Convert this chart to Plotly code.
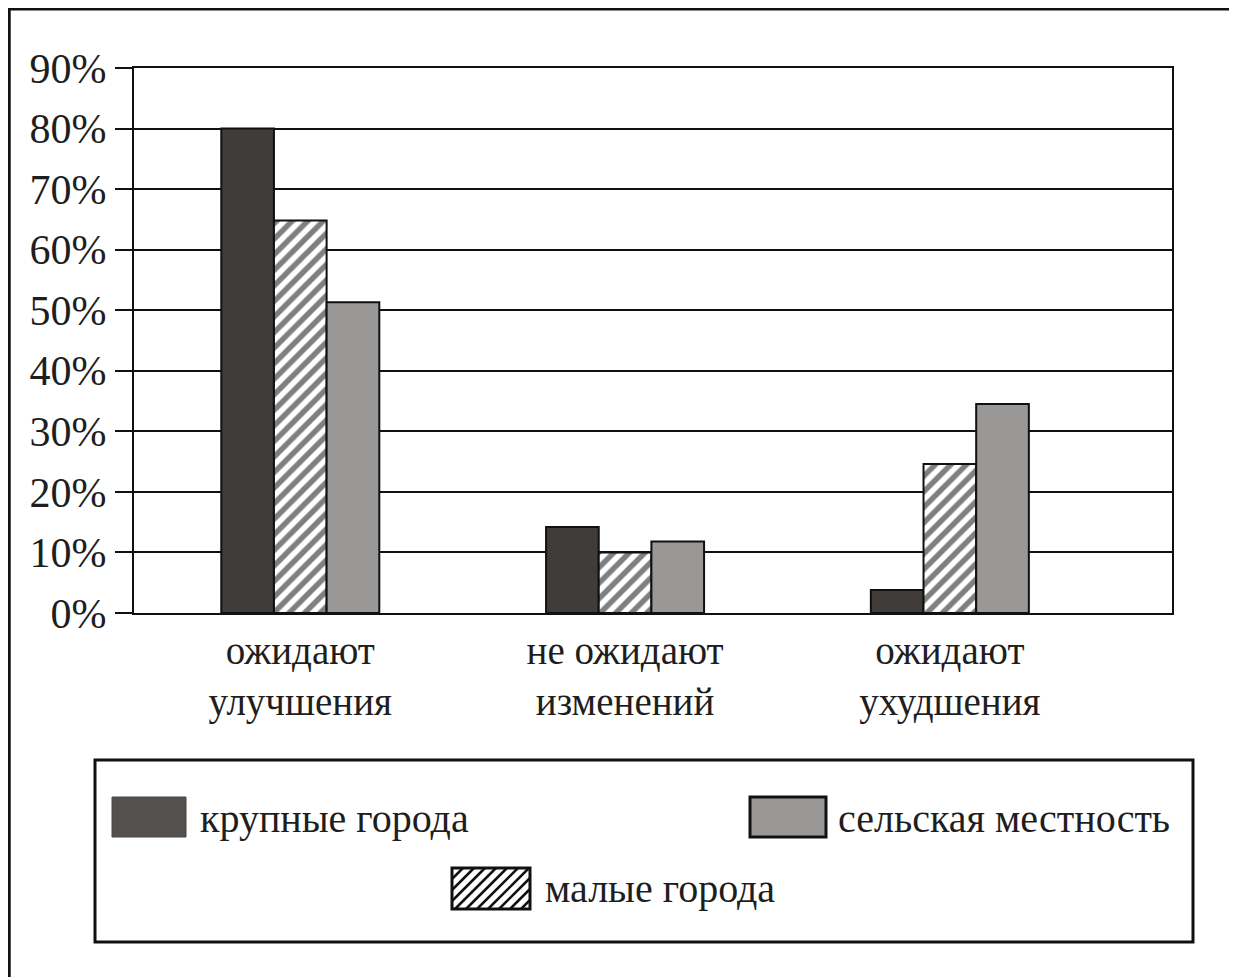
import plotly.graph_objects as go

# ---- data ----
categories = ["ожидают<br>улучшения", "не ожидают<br>изменений", "ожидают<br>ухудшения"]
series_names = ["крупные города", "малые города", "сельская местность"]
large_cities = [80, 14.2, 3.8]
small_towns = [64.8, 10, 24.6]
rural = [51.3, 11.8, 34.5]
y_tick_values = [0, 10, 20, 30, 40, 50, 60, 70, 80, 90]
y_tick_labels = [f"{v}%" for v in y_tick_values]

# page body has an 8px margin; figure sized to fill the rest of the window
OFF = 8
W, H = 1237 - OFF, 977 - OFF
FONT = "Liberation Serif"
TXT = "#1e1e1e"


def px(x):
    return (x - OFF) / W


def py(y):
    return 1 - (y - OFF) / H


fig = go.Figure()

fig.add_bar(
    x=categories, y=large_cities, name=series_names[0],
    marker=dict(color="#3f3c39", line=dict(color="#111", width=2)),
    showlegend=False,
)
fig.add_bar(
    x=categories, y=small_towns, name=series_names[1],
    marker=dict(color="white", line=dict(color="#111", width=2),
                pattern=dict(shape="/", fgcolor="#000", bgcolor="white",
                             size=11, solidity=0.5)),
    showlegend=False,
)
fig.add_bar(
    x=categories, y=rural, name=series_names[2],
    marker=dict(color="#9a9897", line=dict(color="#111", width=2)),
    showlegend=False,
)

shapes = []
# outer frame (left and top)
shapes.append(dict(type="line", xref="paper", yref="paper",
                   x0=0.001, x1=0.001, y0=1, y1=0,
                   line=dict(color="#111", width=3)))
shapes.append(dict(type="line", xref="paper", yref="paper",
                   x0=0, x1=1, y0=0.999, y1=0.999,
                   line=dict(color="#111", width=3)))
# legend box
shapes.append(dict(type="rect", xref="paper", yref="paper",
                   x0=px(95), x1=px(1193), y0=py(942), y1=py(760),
                   line=dict(color="#111", width=3), fillcolor="rgba(0,0,0,0)"))
# legend swatches
shapes.append(dict(type="rect", xref="paper", yref="paper",
                   x0=px(112), x1=px(186), y0=py(837), y1=py(797),
                   line=dict(color="#4a4744", width=1), fillcolor="#53504d"))
shapes.append(dict(type="rect", xref="paper", yref="paper",
                   x0=px(750), x1=px(826), y0=py(837), y1=py(797),
                   line=dict(color="#111", width=3), fillcolor="#9a9897"))
hx0, hx1, hy0, hy1 = 452, 530, 868, 909
shapes.append(dict(type="rect", xref="paper", yref="paper",
                   x0=px(hx0), x1=px(hx1), y0=py(hy1), y1=py(hy0),
                   line=dict(color="#111", width=3), fillcolor="white"))
# hatch lines inside the hatched legend swatch
path = ""
hh = hy1 - hy0
c = -hh
while c < (hx1 - hx0):
    xs, ys = hx0 + c, hy1
    xe, ye = hx0 + c + hh, hy0
    if xs < hx0:
        ys = hy1 - (hx0 - xs)
        xs = hx0
    if xe > hx1:
        ye = hy0 + (xe - hx1)
        xe = hx1
    if xe > xs:
        path += f"M{px(xs)},{py(ys)} L{px(xe)},{py(ye)} "
    c += 11
shapes.append(dict(type="path", xref="paper", yref="paper", path=path,
                   line=dict(color="#111", width=2.5)))

annotations = [
    dict(text=series_names[0], x=px(198), y=py(818), xanchor="left", yanchor="middle"),
    dict(text=series_names[2], x=px(836), y=py(818), xanchor="left", yanchor="middle"),
    dict(text=series_names[1], x=px(543), y=py(888), xanchor="left", yanchor="middle"),
]
for a in annotations:
    a.update(xref="paper", yref="paper", showarrow=False,
             font=dict(family=FONT, size=40, color=TXT))

fig.update_layout(
    width=W, height=H, autosize=False,
    margin=dict(l=0, r=0, t=0, b=0, pad=0, autoexpand=False),
    paper_bgcolor="white", plot_bgcolor="white",
    barmode="group", bargap=0.5135, bargroupgap=0,
    shapes=shapes, annotations=annotations,
    font=dict(family=FONT, color=TXT),
    xaxis=dict(
        domain=[px(134), px(1172)],
        range=[-0.512, 2.684],
        automargin=False,
        showline=True, linecolor="#111", linewidth=2, mirror=True,
        ticks="", showgrid=False,
        tickfont=dict(family=FONT, size=39, color=TXT),
        ticklabelstandoff=2,
    ),
    yaxis=dict(
        domain=[py(613), py(68)],
        range=[0, 90],
        automargin=False,
        tickvals=y_tick_values, ticktext=y_tick_labels,
        showline=True, linecolor="#111", linewidth=2, mirror=True,
        ticks="outside", ticklen=17, tickwidth=2, tickcolor="#111",
        showgrid=True, gridcolor="#111", gridwidth=2,
        zeroline=False,
        tickfont=dict(family=FONT, size=42, color=TXT),
        ticklabelstandoff=0,
    ),
)

fig.write_html("out.html")
